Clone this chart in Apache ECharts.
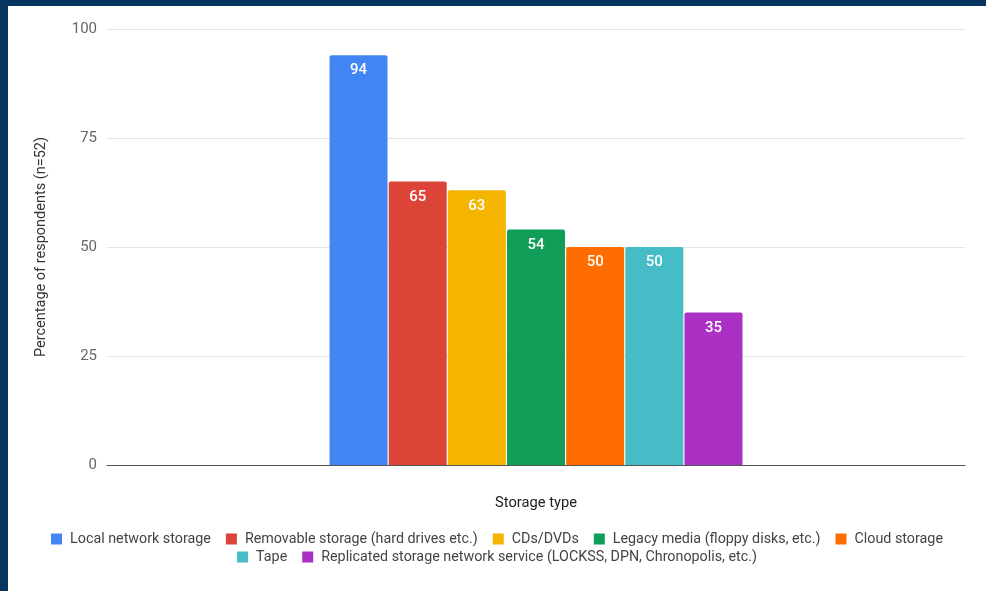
<!DOCTYPE html>
<html>
<head>
<meta charset="utf-8">
<script src="https://cdn.jsdelivr.net/npm/echarts@6/dist/echarts.min.js"></script>
<style>
  html, body { margin: 0; padding: 0; background: #ffffff; }
  #frame { position: absolute; left: 0; top: 0; width: 986px; height: 591px; background: #06365f; }
  #chart { position: absolute; left: 8px; top: 6px; width: 978px; height: 585px; background: #ffffff; }
</style>
</head>
<body>
<div id="frame"></div>
<div id="chart"></div>
<script>
// Survey results: storage types used by respondents
const categories = ['Storage type'];
const seriesNames = [
  'Local network storage',
  'Removable storage (hard drives etc.)',
  'CDs/DVDs',
  'Legacy media (floppy disks, etc.)',
  'Cloud storage',
  'Tape',
  'Replicated storage network service (LOCKSS, DPN, Chronopolis, etc.)'
];
const seriesValues = [94, 65, 63, 54, 50, 50, 35];
const colors = ['#4285f4', '#db4437', '#f4b400', '#0f9d58', '#ff6d00', '#46bdc6', '#ab30c4'];
const yTicks = [0, 25, 50, 75, 100];

const font = 'Roboto, "Noto Sans", sans-serif';

const chart = echarts.init(document.getElementById('chart'), null, { renderer: 'canvas' });

const series = seriesNames.map((name, i) => ({
  name: name,
  type: 'bar',
  data: [seriesValues[i]],
  barWidth: 58,
  barGap: '2%',
  itemStyle: { color: colors[i], borderRadius: [2, 2, 0, 0] },
  label: {
    show: true,
    position: 'insideTop',
    distance: 8,
    color: '#ffffff',
    fontFamily: font,
    fontSize: 15,
    fontWeight: 500
  }
}));

const legendCommon = {
  icon: 'rect',
  itemWidth: 11,
  itemHeight: 11,
  itemGap: 15,
  left: 'center',
  textStyle: { color: '#444444', fontFamily: font, fontSize: 14.3, padding: [0, 0, 0, 3] }
};

chart.setOption({
  animation: false,
  color: colors,
  textStyle: { fontFamily: font },
  grid: { left: 99, right: 21, top: 23, bottom: 126 },
  legend: [
    Object.assign({}, legendCommon, { top: 521, data: seriesNames.slice(0, 5) }),
    Object.assign({}, legendCommon, { top: 539, data: seriesNames.slice(5) })
  ],
  xAxis: {
    type: 'category',
    data: categories,
    name: 'Storage type',
    nameLocation: 'middle',
    nameGap: 31,
    nameTextStyle: { color: '#222222', fontFamily: font, fontSize: 14.7 },
    axisLine: { lineStyle: { color: '#555555', width: 1 } },
    axisTick: { show: false },
    axisLabel: { show: false }
  },
  yAxis: {
    type: 'value',
    min: yTicks[0],
    max: yTicks[yTicks.length - 1],
    interval: 25,
    name: 'Percentage of respondents (n=52)',
    nameLocation: 'middle',
    nameGap: 58,
    nameTextStyle: { color: '#333333', fontFamily: font, fontSize: 14.5 },
    axisLine: { show: false },
    axisTick: { show: false },
    axisLabel: { color: '#666666', fontFamily: font, fontSize: 15, margin: 10 },
    splitLine: { lineStyle: { color: '#e3e3e3', width: 1 } }
  },
  series: series
});
</script>
</body>
</html>
